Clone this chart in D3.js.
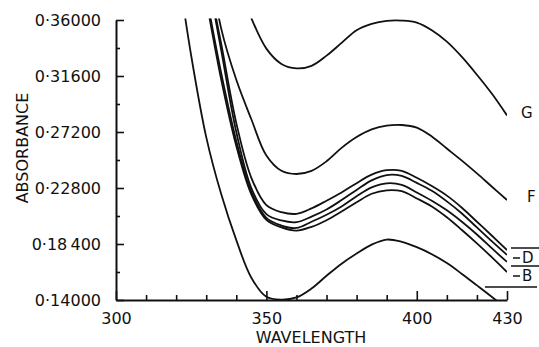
<!DOCTYPE html>
<html>
<head>
<meta charset="utf-8">
<script src="https://cdn.jsdelivr.net/npm/d3@7"></script>
<style>
  html, body { margin: 0; padding: 0; background: #fff; }
  svg { display: block; }
  text { font-family: "DejaVu Sans", sans-serif; fill: #111; }
</style>
</head>
<body>
<svg id="chart" width="539" height="347"></svg>
<script>
// ---- data ----
const wavelengths = [320,325,330,335,340,345,350,355,360,365,370,375,380,385,390,395,400,405,410,415,420,425,430];
const seriesA = [0.41,0.332,0.268,0.223,0.187,0.1575,0.1425,0.1403,0.142,0.149,0.159,0.1685,0.1765,0.1835,0.1875,0.1857,0.1815,0.176,0.169,0.1605,0.1515,0.1424,0.133];
const seriesB = [null,null,0.376,0.313,0.261,0.223,0.203,0.197,0.1945,0.1975,0.2027,0.2095,0.2168,0.2235,0.2262,0.2255,0.2198,0.2135,0.205,0.195,0.1845,0.1735,0.162];
const seriesC = [null,null,0.38,0.318,0.265,0.225,0.2045,0.1985,0.1966,0.2015,0.207,0.2135,0.2215,0.2285,0.2317,0.2305,0.2245,0.218,0.2105,0.2015,0.1915,0.1805,0.1699];
const seriesD = [null,null,0.40,0.336,0.272,0.228,0.2075,0.2025,0.2012,0.2055,0.2111,0.2185,0.2265,0.234,0.2382,0.2375,0.232,0.2258,0.2175,0.208,0.197,0.186,0.1754];
const seriesE = [null,null,0.40,0.341,0.279,0.236,0.2145,0.209,0.2077,0.212,0.218,0.2245,0.2318,0.2385,0.242,0.2415,0.236,0.2295,0.222,0.2125,0.2015,0.1905,0.1793];
const seriesF = [null,null,0.42,0.353,0.313,0.282,0.2535,0.2415,0.239,0.2415,0.249,0.2595,0.268,0.274,0.277,0.2775,0.2755,0.2685,0.259,0.2495,0.2395,0.229,0.2186];
const seriesG = [null,null,null,null,0.395,0.3615,0.3375,0.3255,0.322,0.324,0.332,0.342,0.352,0.357,0.3593,0.3595,0.358,0.352,0.343,0.331,0.317,0.302,0.285];
const seriesNames = ["A","B","C","D","E","F","G"];
const yTickValues = [0.36,0.316,0.272,0.228,0.184,0.14];
const yTickLabels = ["0·36000","0·31600","0·27200","0·22800","0·18\u2009400","0·14000"];
const xTickValues = [300,350,400,430];
const xTickLabels = ["300","350","400","430"];

// ---- layout ----
const svg = d3.select("#chart");
const x = d3.scaleLinear().domain([300,430]).range([116,507]);
const y = d3.scaleLinear().domain([0.14,0.36]).range([300,20]);

svg.append("defs").append("clipPath").attr("id","plot")
  .append("rect").attr("x",116).attr("y",18.5).attr("width",391).attr("height",282);

const allSeries = [seriesA,seriesB,seriesC,seriesD,seriesE,seriesF,seriesG];
const line = d3.line()
  .defined(d => d[1] !== null)
  .x(d => x(d[0])).y(d => y(d[1]))
  .curve(d3.curveCatmullRom.alpha(0.5));

const g = svg.append("g").attr("clip-path","url(#plot)");
allSeries.forEach((s,i) => {
  g.append("path")
    .datum(wavelengths.map((w,j) => [w, s[j]]))
    .attr("d", line)
    .attr("fill","none").attr("stroke","#111").attr("stroke-width",1.8)
    .attr("class","series-"+seriesNames[i]);
});

// ---- axes ----
const xMinor = d3.range(300,431,10).filter(v => !xTickValues.includes(v));
svg.append("g").attr("transform","translate(0,300)")
  .call(d3.axisBottom(x).tickValues(xMinor).tickSize(-5).tickFormat(""))
  .call(a => a.select(".domain").remove())
  .selectAll("line").attr("stroke","#111").attr("stroke-width",1.6);
const xAxis = svg.append("g").attr("transform","translate(0,300)")
  .call(d3.axisBottom(x).tickValues(xTickValues).tickSize(-9).tickSizeOuter(0)
    .tickFormat((d,i) => xTickLabels[i]));
xAxis.select(".domain").attr("stroke","#111").attr("stroke-width",2);
xAxis.selectAll(".tick line").attr("stroke","#111").attr("stroke-width",1.6);
xAxis.selectAll(".tick text").attr("y",24).attr("dy",0)
  .style("font-size","16px").style("font-family","DejaVu Sans").attr("fill","#111");

const yMinor = d3.range(0,5).map(i => 0.162 + 0.044*i);
svg.append("g").attr("transform","translate(116,0)")
  .call(d3.axisLeft(y).tickValues(yMinor).tickSize(-4).tickFormat(""))
  .call(a => a.select(".domain").remove())
  .selectAll("line").attr("stroke","#111").attr("stroke-width",1.6);
const yAxis = svg.append("g").attr("transform","translate(116,0)")
  .call(d3.axisLeft(y).tickValues(yTickValues).tickSize(-8).tickSizeOuter(0)
    .tickFormat((d,i) => yTickLabels[i]));
yAxis.select(".domain").attr("stroke","#111").attr("stroke-width",2);
yAxis.selectAll(".tick line").attr("stroke","#111").attr("stroke-width",1.6);
yAxis.selectAll(".tick text").attr("x",-15)
  .style("font-size","16px").style("font-family","DejaVu Sans").attr("fill","#111");

// axis titles
svg.append("text").attr("x",311).attr("y",343).attr("text-anchor","middle")
  .style("font-size","16px").text("WAVELENGTH");
svg.append("text").attr("transform","translate(28,148) rotate(-90)").attr("text-anchor","middle")
  .style("font-size","16px").text("ABSORBANCE");

// ---- right-hand curve labels ----
const lbl = svg.append("g").attr("stroke","#111").attr("stroke-width",1.5);
lbl.append("line").attr("x1",511).attr("x2",539).attr("y1",248).attr("y2",248);
lbl.append("line").attr("x1",513).attr("x2",520).attr("y1",258).attr("y2",258);
lbl.append("line").attr("x1",511).attr("x2",539).attr("y1",266).attr("y2",266);
lbl.append("line").attr("x1",513).attr("x2",520).attr("y1",276).attr("y2",276);
lbl.append("line").attr("x1",485).attr("x2",537).attr("y1",287).attr("y2",287);
const lt = [["G",521,118],["F",527,202],["D",522,263],["B",522,281]];
lt.forEach(t => svg.append("text").attr("x",t[1]).attr("y",t[2])
  .style("font-size","15px").text(t[0]));
</script>
</body>
</html>
